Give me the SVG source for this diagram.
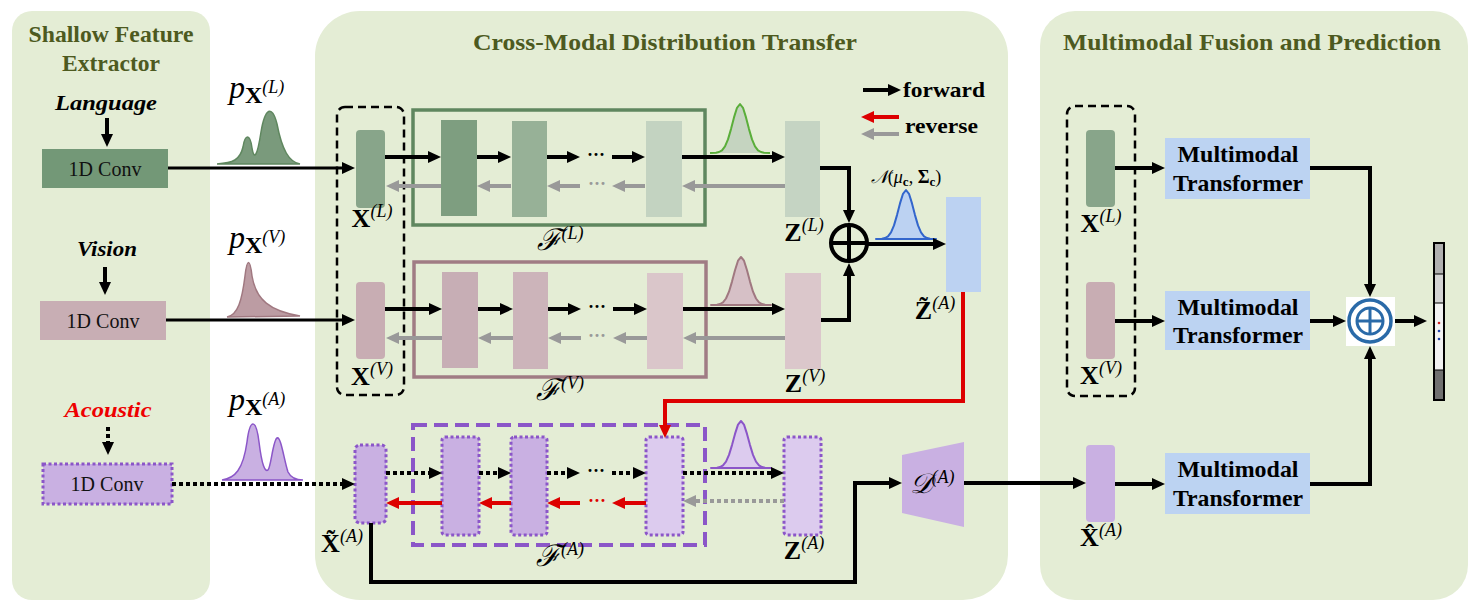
<svg xmlns="http://www.w3.org/2000/svg" width="1479" height="614" viewBox="0 0 1479 614">
<defs>
<style>
.panel{fill:#e4edd5}
.title{font-family:"Liberation Serif",serif;font-weight:bold;font-size:23px;fill:#4d5a1f}
.leg{font-family:"Liberation Serif",serif;font-weight:bold;font-size:22px;fill:#000}
.mod{font-family:"Liberation Serif",serif;font-weight:bold;font-style:italic;font-size:22px;fill:#000}
.conv{font-family:"Liberation Serif",serif;font-size:20px;fill:#111}
.tr{font-family:"Liberation Serif",serif;font-weight:bold;font-size:23px;fill:#000}
.mx{font-family:"Liberation Serif",serif;font-weight:bold;font-size:26px;fill:#000}
.sup{font-weight:normal;font-style:italic;font-size:18px}
.cal{font-family:"DejaVu Serif","Liberation Serif",serif;font-style:italic;font-weight:normal}
.pl{font-family:"Liberation Serif",serif;fill:#000}
.fw{stroke:#000;stroke-width:4;fill:none}
.fw3{stroke:#000;stroke-width:3;fill:none}
.fd{stroke:#000;stroke-width:4;fill:none;stroke-dasharray:4 3}
.rv{stroke:#999;stroke-width:4;fill:none}
.rvd{stroke:#999;stroke-width:4;fill:none;stroke-dasharray:4 3}
.rr{stroke:#dd0000;stroke-width:4;fill:none}
.pd{stroke:#8b56c8;stroke-width:3;stroke-dasharray:3 2.5}
.dots{font-family:"Liberation Serif",serif;font-size:18px;font-weight:bold}
.gs{stroke-width:2;stroke-linejoin:round}
</style>
<marker id="ab" markerUnits="userSpaceOnUse" markerWidth="13" markerHeight="12" viewBox="0 0 13 12" refX="1" refY="6" orient="auto"><path d="M0,0L13,6L0,12z" fill="#000"/></marker>
<marker id="ag" markerUnits="userSpaceOnUse" markerWidth="13" markerHeight="12" viewBox="0 0 13 12" refX="1" refY="6" orient="auto"><path d="M0,0L13,6L0,12z" fill="#999"/></marker>
<marker id="ar" markerUnits="userSpaceOnUse" markerWidth="13" markerHeight="12" viewBox="0 0 13 12" refX="1" refY="6" orient="auto"><path d="M0,0L13,6L0,12z" fill="#dd0000"/></marker>
</defs>
<rect width="1479" height="614" fill="#fff"/>

<!-- panels -->
<g id="panel-shallow">
<rect class="panel" x="12" y="11" width="198" height="589" rx="20"/>
<text class="title" x="111" y="42" text-anchor="middle" textLength="165" lengthAdjust="spacingAndGlyphs">Shallow Feature</text>
<text class="title" x="111" y="71" text-anchor="middle" textLength="98" lengthAdjust="spacingAndGlyphs">Extractor</text>
</g>
<g id="panel-transfer">
<rect class="panel" x="315" y="11" width="693" height="589" rx="45"/>
<text class="title" x="665" y="50" text-anchor="middle" textLength="384" lengthAdjust="spacingAndGlyphs">Cross-Modal Distribution Transfer</text>
</g>
<g id="panel-fusion">
<rect class="panel" x="1040" y="11" width="428" height="589" rx="35"/>
<text class="title" x="1252" y="50" text-anchor="middle" textLength="378" lengthAdjust="spacingAndGlyphs">Multimodal Fusion and Prediction</text>
</g>

<!-- modality inputs -->
<g id="language">
<text class="mod" x="106" y="110" text-anchor="middle" textLength="102" lengthAdjust="spacingAndGlyphs">Language</text>
<rect x="42" y="149" width="126" height="39" fill="#739877"/>
<text class="conv" x="105" y="176" text-anchor="middle">1D Conv</text>
</g>
<g id="vision">
<text class="mod" x="107" y="256" text-anchor="middle" textLength="60" lengthAdjust="spacingAndGlyphs">Vision</text>
<rect x="40" y="301" width="126" height="39" fill="#c8aeb4"/>
<text class="conv" x="103" y="328" text-anchor="middle">1D Conv</text>
</g>
<g id="acoustic">
<text class="mod" x="108" y="417" text-anchor="middle" textLength="87" lengthAdjust="spacingAndGlyphs" style="fill:#ee0000">Acoustic</text>
<rect x="43" y="464" width="129" height="40" fill="#c9b0e2" class="pd"/>
<text class="conv" x="107" y="491" text-anchor="middle">1D Conv</text>
</g>

<!-- input distributions -->
<g id="dist-L">
<path d="M217,164 C233,163 240,160 243,147 C245,134 250,133 252,148 C254,160 257,158 261,132 C265,108 272,104 277,124 C282,150 289,162 300,164 Z" fill="#7a9a7c" stroke="#5f875f" stroke-width="1.5"/>
<text class="pl" x="229" y="98"><tspan font-style="italic" font-size="32">p</tspan><tspan font-weight="bold" font-size="24" dy="5">X</tspan><tspan font-style="italic" font-size="18" dy="-10">(L)</tspan></text>
</g>
<g id="dist-V">
<path d="M227,317 C238,315 242,300 245,276 C247,258 250,258 252,276 C256,300 270,311 300,316 Z" fill="#bc9ca3" stroke="#a07880" stroke-width="1.5"/>
<text class="pl" x="229" y="248"><tspan font-style="italic" font-size="32">p</tspan><tspan font-weight="bold" font-size="24" dy="5">X</tspan><tspan font-style="italic" font-size="18" dy="-10">(V)</tspan></text>
</g>
<g id="dist-A">
<path d="M222,480 C235,478 243,470 247,442 C250,418 256,418 259,442 C262,466 265,472 268,470 C271,467 273,440 277,438 C281,436 284,460 288,472 C291,478 296,480 303,480 Z" fill="#c9b0e2" stroke="#8b56c8" stroke-width="1.5"/>
<text class="pl" x="229" y="410"><tspan font-style="italic" font-size="32">p</tspan><tspan font-weight="bold" font-size="24" dy="5">X</tspan><tspan font-style="italic" font-size="18" dy="-10">(A)</tspan></text>
</g>

<!-- inputs X -->
<g id="X-group">
<rect x="337" y="107" width="67" height="288" rx="8" fill="none" stroke="#000" stroke-width="2.5" stroke-dasharray="8 5"/>
<rect x="356" y="130" width="29" height="78" rx="4" fill="#88a58a"/>
<text class="mx" x="372" y="227" text-anchor="middle">X<tspan class="sup" dy="-10">(L)</tspan></text>
<rect x="356" y="282" width="29" height="77" rx="4" fill="#c8adb3"/>
<text class="mx" x="372" y="385" text-anchor="middle">X<tspan class="sup" dy="-10">(V)</tspan></text>
</g>
<g id="Xtilde-A">
<rect x="355" y="445" width="31" height="78" rx="5" fill="#c9b0e2" class="pd"/>
<text class="mx" x="342" y="552" text-anchor="middle">X̃<tspan class="sup" dy="-10">(A)</tspan></text>
</g>

<!-- flow L -->
<g id="flow-L">
<rect x="413" y="110" width="292" height="115" fill="none" stroke="#5f875f" stroke-width="3.5"/>
<rect x="441" y="120" width="36" height="96" fill="#7e9e80"/>
<rect x="512" y="121" width="35" height="96" fill="#97b197"/>
<rect x="646" y="121" width="36" height="96" fill="#c3d3c1"/>
<text class="cal" x="560" y="250" text-anchor="middle" font-size="30">ℱ<tspan class="sup" font-family="Liberation Serif" dy="-11">(L)</tspan></text>
</g>
<g id="Z-L">
<rect x="785" y="121" width="35" height="96" fill="#c5d4c3"/>
<text class="mx" x="804" y="241" text-anchor="middle">Z<tspan class="sup" dy="-10">(L)</tspan></text>
<path d="M710,153 L716,152.7 L719,152 L722,150.3 L725,146.4 L728,139.4 L731,129.1 L734,117.4 L737,107.8 L740,104 L743,107.8 L746,117.4 L749,129.1 L752,139.4 L755,146.4 L758,150.3 L761,152 L764,152.7 L770,153 Z" fill="#c5d4c0"/>
<path class="gs" d="M710,153 L716,152.7 L719,152 L722,150.3 L725,146.4 L728,139.4 L731,129.1 L734,117.4 L737,107.8 L740,104 L743,107.8 L746,117.4 L749,129.1 L752,139.4 L755,146.4 L758,150.3 L761,152 L764,152.7 L770,153" fill="none" stroke="#5aae3a"/>
</g>

<!-- flow V -->
<g id="flow-V">
<rect x="414" y="262" width="292" height="115" fill="none" stroke="#a07c84" stroke-width="3.5"/>
<rect x="442" y="272" width="36" height="96" fill="#c7aeb5"/>
<rect x="513" y="272" width="35" height="97" fill="#ccb4ba"/>
<rect x="647" y="273" width="36" height="96" fill="#dac6ca"/>
<text class="cal" x="560" y="400" text-anchor="middle" font-size="30">ℱ<tspan class="sup" font-family="Liberation Serif" dy="-11">(V)</tspan></text>
</g>
<g id="Z-V">
<rect x="785" y="273" width="36" height="96" fill="#dbc7cb"/>
<text class="mx" x="805" y="392" text-anchor="middle">Z<tspan class="sup" dy="-10">(V)</tspan></text>
<path class="gs" d="M711,305 L717,304.7 L720,304 L723,302.3 L726,298.5 L729,291.7 L732,281.6 L735,270.2 L738,260.7 L741,257 L744,260.7 L747,270.2 L750,281.6 L753,291.7 L756,298.5 L759,302.3 L762,304 L765,304.7 L771,305 Z" fill="#d6c0c6" stroke="#a07880"/>
</g>

<!-- flow A -->
<g id="flow-A">
<rect x="413" y="425" width="292" height="120" fill="none" stroke="#8b56c8" stroke-width="4" stroke-dasharray="14 7"/>
<rect x="442" y="437" width="37" height="98" rx="3" fill="#c9b0e2" class="pd"/>
<rect x="511" y="437" width="36" height="98" rx="3" fill="#c9b0e2" class="pd"/>
<rect x="646" y="437" width="37" height="98" rx="3" fill="#dccbee" class="pd"/>
<text class="cal" x="560" y="566" text-anchor="middle" font-size="30">ℱ<tspan class="sup" font-family="Liberation Serif" dy="-11">(A)</tspan></text>
</g>
<g id="Z-A">
<rect x="784" y="437" width="37" height="98" rx="3" fill="#dccbee" class="pd"/>
<text class="mx" x="804" y="559" text-anchor="middle">Z<tspan class="sup" dy="-10">(A)</tspan></text>
<path class="gs" d="M711,468 L717,467.7 L720,467.1 L723,465.4 L726,461.7 L729,454.9 L732,445.1 L735,433.9 L738,424.6 L741,421 L744,424.6 L747,433.9 L750,445.1 L753,454.9 L756,461.7 L759,465.4 L762,467.1 L765,467.7 L771,468 Z" fill="#dccbee" stroke="#8b56c8"/>
</g>

<!-- fusion of Z -->
<g id="sum">
<circle cx="849" cy="243" r="18" fill="none" stroke="#000" stroke-width="4"/>
<path d="M831,243H867M849,225V261" stroke="#000" stroke-width="4"/>
</g>
<g id="Ztilde-A">
<rect x="946" y="197" width="35" height="95" fill="#bcd2f2"/>
<path class="gs" d="M876,239 L882,238.7 L885,238 L888,236.3 L891,232.4 L894,225.4 L897,215.1 L900,203.4 L903,193.8 L906,190 L909,193.8 L912,203.4 L915,215.1 L918,225.4 L921,232.4 L924,236.3 L927,238 L930,238.7 L936,239 Z" fill="#bcd2f2" stroke="#3366cc"/>
<text class="pl" x="906" y="183" text-anchor="middle" font-size="18"><tspan class="cal">𝒩</tspan><tspan>(</tspan><tspan font-style="italic">μ</tspan><tspan font-weight="bold" font-size="13" dy="3">c</tspan><tspan dy="-3">, </tspan><tspan font-weight="bold">Σ</tspan><tspan font-weight="bold" font-size="13" dy="3">c</tspan><tspan dy="-3">)</tspan></text>
<text class="mx" x="935" y="319" text-anchor="middle">Z̃<tspan class="sup" dy="-10">(A)</tspan></text>
</g>

<!-- decoder -->
<g id="decoder">
<polygon points="902,455 964,442 964,527 902,513" fill="#c9b0e2"/>
<text class="cal" x="932" y="493" text-anchor="middle" font-size="28">𝒟<tspan class="sup" font-family="Liberation Serif" dy="-10">(A)</tspan></text>
</g>

<!-- legend -->
<g id="legend">
<text class="leg" x="903" y="97" textLength="82" lengthAdjust="spacingAndGlyphs">forward</text>
<text class="leg" x="905" y="133" textLength="73" lengthAdjust="spacingAndGlyphs">reverse</text>
</g>

<!-- right panel -->
<g id="fusion-inputs">
<rect x="1067" y="106" width="68" height="290" rx="8" fill="none" stroke="#000" stroke-width="2.5" stroke-dasharray="8 5"/>
<rect x="1086" y="130" width="29" height="77" rx="4" fill="#88a58a"/>
<text class="mx" x="1101" y="232" text-anchor="middle">X<tspan class="sup" dy="-10">(L)</tspan></text>
<rect x="1086" y="282" width="29" height="77" rx="4" fill="#c8adb3"/>
<text class="mx" x="1101" y="384" text-anchor="middle">X<tspan class="sup" dy="-10">(V)</tspan></text>
</g>
<g id="Xhat-A">
<rect x="1086" y="445" width="29" height="77" rx="4" fill="#c9b0e2"/>
<text class="mx" x="1101" y="546" text-anchor="middle">X̂<tspan class="sup" dy="-10">(A)</tspan></text>
</g>
<g id="transformer-L">
<rect x="1165" y="138" width="145" height="61" fill="#bcd3f2"/>
<text class="tr" x="1238" y="162" text-anchor="middle" textLength="121" lengthAdjust="spacingAndGlyphs">Multimodal</text>
<text class="tr" x="1238" y="191" text-anchor="middle" textLength="130" lengthAdjust="spacingAndGlyphs">Transformer</text>
</g>
<g id="transformer-V">
<rect x="1165" y="291" width="145" height="59" fill="#bcd3f2"/>
<text class="tr" x="1238" y="315" text-anchor="middle" textLength="121" lengthAdjust="spacingAndGlyphs">Multimodal</text>
<text class="tr" x="1238" y="343" text-anchor="middle" textLength="130" lengthAdjust="spacingAndGlyphs">Transformer</text>
</g>
<g id="transformer-A">
<rect x="1165" y="453" width="145" height="61" fill="#bcd3f2"/>
<text class="tr" x="1238" y="477" text-anchor="middle" textLength="121" lengthAdjust="spacingAndGlyphs">Multimodal</text>
<text class="tr" x="1238" y="506" text-anchor="middle" textLength="130" lengthAdjust="spacingAndGlyphs">Transformer</text>
</g>
<g id="fusion-sum">
<rect x="1346" y="297" width="49" height="49" fill="#fff"/>
<circle cx="1370" cy="321" r="21" fill="none" stroke="#2a6aa8" stroke-width="3.5"/>
<circle cx="1370" cy="321" r="13" fill="none" stroke="#2a6aa8" stroke-width="3"/>
<path d="M1357,321H1383M1370,308V334" stroke="#2a6aa8" stroke-width="3"/>
</g>
<g id="output">
<rect x="1434" y="243" width="10" height="31" fill="#b0b0b0"/>
<rect x="1434" y="274" width="10" height="29" fill="#d4d4d4"/>
<rect x="1434" y="303" width="10" height="67" fill="#f2f2f2"/>
<rect x="1434" y="370" width="10" height="30" fill="#707070"/>
<path d="M1434,274H1444M1434,303H1444M1434,370H1444" stroke="#000" stroke-width="1"/>
<rect x="1434" y="243" width="10" height="157" fill="none" stroke="#000" stroke-width="2"/>
<circle cx="1439" cy="323" r="1.3" fill="#cc2222"/>
<circle cx="1439" cy="331" r="1.3" fill="#2244aa"/>
<circle cx="1439" cy="339" r="1.3" fill="#2244aa"/>
</g>

<!-- connectors -->
<g id="connectors">
<path class="fw" d="M107,118V135" marker-end="url(#ab)"/>
<path class="fw" d="M105,267V283" marker-end="url(#ab)"/>
<path class="fd" d="M108,427V443" marker-end="url(#ab)"/>
<path class="fw3" d="M168,168H343" marker-end="url(#ab)"/>
<path class="fw3" d="M166,320H343" marker-end="url(#ab)"/>
<path class="fd" d="M172,484H343" marker-end="url(#ab)"/>
<path class="fw" d="M385,157H429" marker-end="url(#ab)"/>
<path class="fw" d="M477,157H499" marker-end="url(#ab)"/>
<path class="fw" d="M547,157H568" marker-end="url(#ab)"/>
<path class="fw" d="M612,157H633" marker-end="url(#ab)"/>
<path class="fw" d="M682,157H773" marker-end="url(#ab)"/>
<path class="rv" d="M441,186H398" marker-end="url(#ag)"/>
<path class="rv" d="M511,186H489" marker-end="url(#ag)"/>
<path class="rv" d="M580,186H559" marker-end="url(#ag)"/>
<path class="rv" d="M645,186H624" marker-end="url(#ag)"/>
<path class="rv" d="M785,186H694" marker-end="url(#ag)"/>
<text class="dots" x="596" y="161" text-anchor="middle">···</text>
<text class="dots" x="597" y="190" text-anchor="middle" fill="#999">···</text>
<path class="fw" d="M385,309H430" marker-end="url(#ab)"/>
<path class="fw" d="M478,309H501" marker-end="url(#ab)"/>
<path class="fw" d="M548,309H569" marker-end="url(#ab)"/>
<path class="fw" d="M613,309H635" marker-end="url(#ab)"/>
<path class="fw" d="M683,309H773" marker-end="url(#ab)"/>
<path class="rv" d="M442,338H398" marker-end="url(#ag)"/>
<path class="rv" d="M513,338H490" marker-end="url(#ag)"/>
<path class="rv" d="M581,338H560" marker-end="url(#ag)"/>
<path class="rv" d="M647,338H625" marker-end="url(#ag)"/>
<path class="rv" d="M785,338H695" marker-end="url(#ag)"/>
<text class="dots" x="597" y="313" text-anchor="middle">···</text>
<text class="dots" x="597" y="342" text-anchor="middle" fill="#999">···</text>
<path class="fd" d="M386,473H430" marker-end="url(#ab)"/>
<path class="fd" d="M479,473H499" marker-end="url(#ab)"/>
<path class="fd" d="M547,473H568" marker-end="url(#ab)"/>
<path class="fd" d="M612,473H634" marker-end="url(#ab)"/>
<path class="fd" d="M683,473H772" marker-end="url(#ab)"/>
<path class="rr" d="M442,503H398" marker-end="url(#ar)"/>
<path class="rr" d="M511,503H491" marker-end="url(#ar)"/>
<path class="rr" d="M580,503H559" marker-end="url(#ar)"/>
<path class="rr" d="M646,503H624" marker-end="url(#ar)"/>
<path class="rvd" d="M784,501H695" marker-end="url(#ag)"/>
<text class="dots" x="596" y="477" text-anchor="middle">···</text>
<text class="dots" x="597" y="507" text-anchor="middle" fill="#dd0000">···</text>
<path class="fw" d="M820,168H849V211" marker-end="url(#ab)"/>
<path class="fw" d="M821,320H849V275" marker-end="url(#ab)"/>
<path class="fw" d="M867,244H934" marker-end="url(#ab)"/>
<path class="rr" d="M963,292V401H665V426" marker-end="url(#ar)"/>
<path class="fw" d="M371,523V582H855V483H890" marker-end="url(#ab)"/>
<path class="fw" d="M964,483H1074" marker-end="url(#ab)"/>
<path class="fw" d="M863,90H889" marker-end="url(#ab)"/>
<path class="rr" d="M899,117H873" marker-end="url(#ar)"/>
<path class="rv" d="M899,134H873" marker-end="url(#ag)"/>
<path class="fw" d="M1115,168H1153" marker-end="url(#ab)"/>
<path class="fw" d="M1115,321H1153" marker-end="url(#ab)"/>
<path class="fw" d="M1115,484H1153" marker-end="url(#ab)"/>
<path class="fw" d="M1310,168H1370V285" marker-end="url(#ab)"/>
<path class="fw" d="M1310,321H1334" marker-end="url(#ab)"/>
<path class="fw" d="M1310,484H1370V358" marker-end="url(#ab)"/>
<path class="fw" d="M1395,321H1415" marker-end="url(#ab)"/>
</g>
</svg>
